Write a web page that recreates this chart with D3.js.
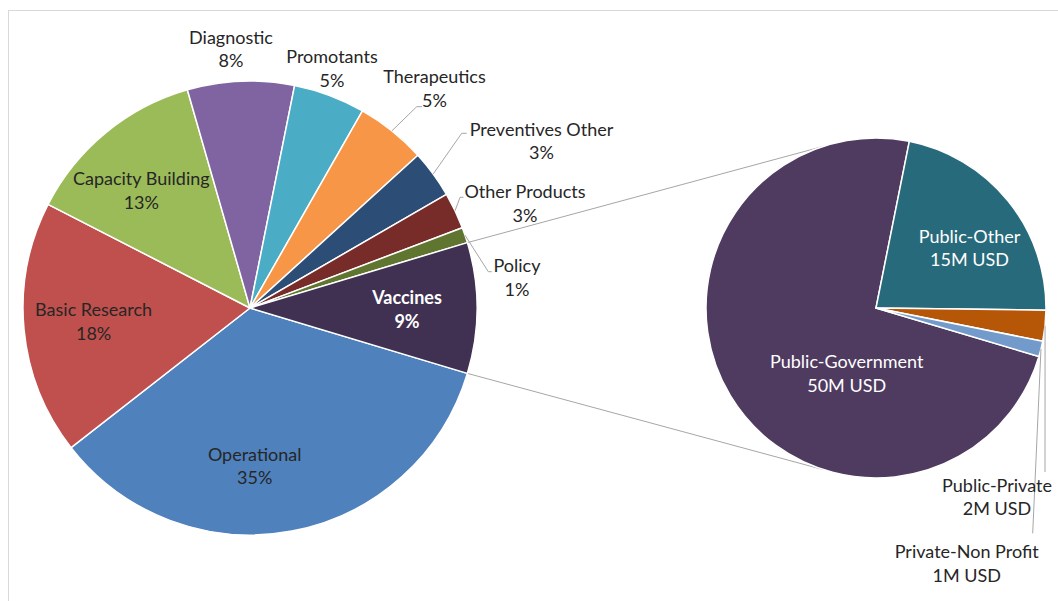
<!DOCTYPE html>
<html><head><meta charset="utf-8">
<script src="https://cdn.jsdelivr.net/npm/d3@7"></script>
<style>body{margin:0;background:#fff}svg text{font-family:Lato,"Open Sans",sans-serif}</style>
</head><body><svg id="c" width="1058" height="601"></svg>
<script>
// ---- data ----
const categories = ["Operational","Basic Research","Capacity Building","Diagnostic","Promotants","Therapeutics","Preventives Other","Other Products","Policy","Vaccines"];
const shares = [34.8,18.1,13.0,7.6,5.1,5.0,3.4,2.6,1.1,9.3];
const subCategories = ["Public-Government","Public-Other","Public-Private","Private-Non Profit"];
const subValues = [50,15,2,1];
const subUnit = "M USD";

// ---- styles / layout ----
const colors = {"Operational":"#4f81bd","Basic Research":"#c0504d","Capacity Building":"#9bbb59","Diagnostic":"#8064a2","Promotants":"#4bacc6","Therapeutics":"#f79646","Preventives Other":"#2c4d75","Other Products":"#772c2a","Policy":"#5f7530","Vaccines":"#403152",
  "Public-Government":"#4f3a60","Public-Other":"#276a7c","Public-Private":"#b65708","Private-Non Profit":"#729aca"};
const labelPos = {"Diagnostic":[231,43.5],"Promotants":[332,63.3],"Therapeutics":[434.5,83.3],"Preventives Other":[541.5,135.5],"Other Products":[525,198],"Policy":[517,272],
  "Capacity Building":[141.3,185.2],"Basic Research":[93.6,316],"Operational":[254.7,460.5],"Vaccines":[407,304],
  "Public-Other":[969.5,242.5],"Public-Government":[846.7,368.3],"Public-Private":[997,491.5],"Private-Non Profit":[966.7,557.8]};
const whiteLabels = new Set(["Vaccines","Public-Other","Public-Government"]);
const leaders = {"Therapeutics":[[416.7,106.7],[422,106.7]],"Preventives Other":[[461.7,133.3],[466.7,133.3]],"Other Products":[[460,197.3],[463.5,197.3]],"Policy":[[488.3,271.7],[491.7,271.7]],
  "Public-Private":[[1045,472]],"Private-Non Profit":[[1032.7,533.3]]};
const lineGap = 23.8, fontSize = 18;
const C1 = [250,308], R1 = 227, C2 = [876,308], R2 = 170;

const svg = d3.select("#c");
svg.append("rect").attr("x",8.5).attr("y",10.5).attr("width",1070).attr("height",620).attr("fill","#fff").attr("stroke","#d9d9d9");

const total = d3.sum(shares);
const otherAngle = shares[shares.length-1]/total*2*Math.PI;
const pie1 = d3.pie().sort(null).startAngle(Math.PI/2+otherAngle/2).endAngle(Math.PI/2+otherAngle/2+2*Math.PI)
  .value((d,i)=>shares[i]);
const arcs1 = pie1(categories);
const arc1 = d3.arc().innerRadius(0).outerRadius(R1);

const subStart = 106.6*Math.PI/180;
const pie2 = d3.pie().sort(null).startAngle(subStart).endAngle(subStart+2*Math.PI).value((d,i)=>subValues[i]);
const arcs2 = pie2(subCategories);
const arc2 = d3.arc().innerRadius(0).outerRadius(R2);

const pt = (c,r,a)=>[c[0]+r*Math.sin(a), c[1]-r*Math.cos(a)];

// connector lines
const vac = arcs1[arcs1.length-1];
const conn = [[pt(C1,R1,vac.startAngle), pt(C2,R2,-18*Math.PI/180)],[pt(C1,R1,vac.endAngle), pt(C2,R2,198*Math.PI/180)]];
svg.selectAll("line.conn").data(conn).enter().append("line").attr("class","conn")
  .attr("x1",d=>d[0][0]).attr("y1",d=>d[0][1]).attr("x2",d=>d[1][0]).attr("y2",d=>d[1][1])
  .attr("stroke","#a6a6a6").attr("stroke-width",1);

const g1 = svg.append("g").attr("transform",`translate(${C1})`);
g1.selectAll("path").data(arcs1).enter().append("path").attr("d",arc1).attr("fill",d=>colors[d.data])
  .attr("stroke","#fff").attr("stroke-width",1.5).attr("stroke-linejoin","round");
const g2 = svg.append("g").attr("transform",`translate(${C2})`);
g2.selectAll("path").data(arcs2).enter().append("path").attr("d",arc2).attr("fill",d=>colors[d.data])
  .attr("stroke","#fff").attr("stroke-width",1.5).attr("stroke-linejoin","round");

// leader lines
function leader(a, c, r){
  const l = leaders[a.data]; if(!l) return;
  const mid = (a.startAngle+a.endAngle)/2;
  const pts = [pt(c,r,mid)].concat(l);
  svg.append("path").attr("d",d3.line()(pts)).attr("fill","none").attr("stroke","#a6a6a6").attr("stroke-width",1);
}
arcs1.forEach(a=>leader(a,C1,R1));
arcs2.forEach(a=>leader(a,C2,R2));

// labels
function label(name, line2){
  const p = labelPos[name];
  const t = svg.append("text").attr("text-anchor","middle").attr("font-size",fontSize)
    .attr("fill", whiteLabels.has(name) ? "#fff" : "#262626");
  t.append("tspan").attr("x",p[0]).attr("y",p[1]).attr("font-weight",name==="Vaccines"?"bold":"normal").text(name);
  t.append("tspan").attr("x",p[0]).attr("y",p[1]+lineGap).attr("font-weight",name==="Vaccines"?"bold":"normal").text(line2);
}
arcs1.forEach((a,i)=>label(a.data, Math.round(shares[i]/total*100)+"%"));
arcs2.forEach((a,i)=>label(a.data, subValues[i]+subUnit));
</script></body></html>
